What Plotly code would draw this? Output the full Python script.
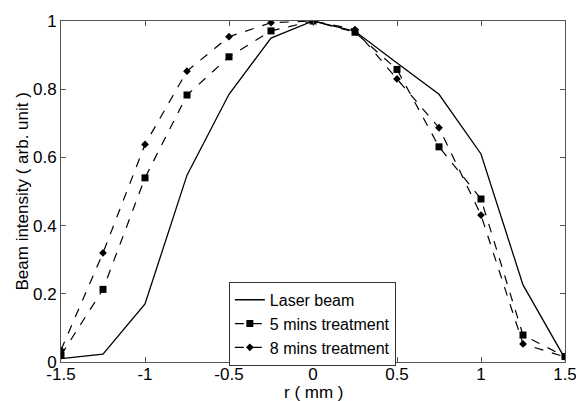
import plotly.graph_objects as go

r = [-1.5, -1.25, -1.0, -0.75, -0.5, -0.25, 0.0, 0.25, 0.5, 0.75, 1.0, 1.25, 1.5]
laser = [0.01, 0.023, 0.17, 0.548, 0.785, 0.95, 1.0, 0.97, 0.877, 0.785, 0.61, 0.226, 0.01]
min5 = [0.02, 0.213, 0.54, 0.783, 0.895, 0.971, 1.0, 0.967, 0.858, 0.631, 0.478, 0.079, 0.016]
min8 = [0.035, 0.32, 0.638, 0.853, 0.954, 0.995, 1.0, 0.975, 0.83, 0.687, 0.431, 0.053, 0.015]

FS = 17
fig = go.Figure()
fig.add_trace(go.Scatter(x=r, y=laser, mode="lines", name="Laser beam",
                         line=dict(color="black", width=1.3)))
fig.add_trace(go.Scatter(x=r, y=min5, mode="lines+markers", name="5 mins treatment",
                         line=dict(color="black", width=1.2, dash="dash"),
                         marker=dict(symbol="square", size=7, color="black")))
fig.add_trace(go.Scatter(x=r, y=min8, mode="lines+markers", name="8 mins treatment",
                         line=dict(color="black", width=1.2, dash="dash"),
                         marker=dict(symbol="diamond", size=6, color="black")))

axis_common = dict(showgrid=False, zeroline=False, showline=True, linecolor="#555555",
                   linewidth=1, mirror="ticks", ticks="inside", ticklen=5,
                   tickcolor="#555555", tickfont=dict(size=FS, color="black"),
                   automargin=False, ticklabeloverflow="allow")
fig.update_xaxes(range=[-1.5, 1.5], tickvals=[-1.5, -1, -0.5, 0, 0.5, 1, 1.5],
                 ticktext=["-1.5", "-1", "-0.5", "0", "0.5", "1", "1.5"],
                 ticklabelstandoff=-3, **axis_common)
fig.update_yaxes(range=[0, 1], tickvals=[0, 0.2, 0.4, 0.6, 0.8, 1],
                 ticktext=["0", "0.2", "0.4", "0.6", "0.8", "1"],
                 **axis_common)
fig.add_annotation(text="r ( mm )", xref="paper", yref="paper", x=0.5, y=0,
                   xanchor="center", yanchor="top", yshift=-19, showarrow=False,
                   font=dict(size=FS, color="black"))
fig.add_annotation(text="Beam intensity ( arb. unit )", xref="paper", yref="paper",
                   x=0, y=0.5, xanchor="center", yanchor="middle", xshift=-39,
                   textangle=-90, showarrow=False, font=dict(size=FS, color="black"))
fig.update_layout(
    width=576, height=401,
    margin=dict(l=61, r=11, t=21, b=39, autoexpand=False),
    paper_bgcolor="white", plot_bgcolor="white",
    font=dict(family="Liberation Sans, Arial, sans-serif", size=FS, color="black"),
    showlegend=True,
    legend=dict(x=0.333, y=0.235, xanchor="left", yanchor="top",
                bgcolor="white", bordercolor="#333333", borderwidth=1,
                font=dict(size=16), tracegroupgap=0, itemwidth=30),
)
fig.write_html("out.html", config={"displayModeBar": False},
               post_script="document.body.style.margin='0';document.body.style.overflow='hidden';")
